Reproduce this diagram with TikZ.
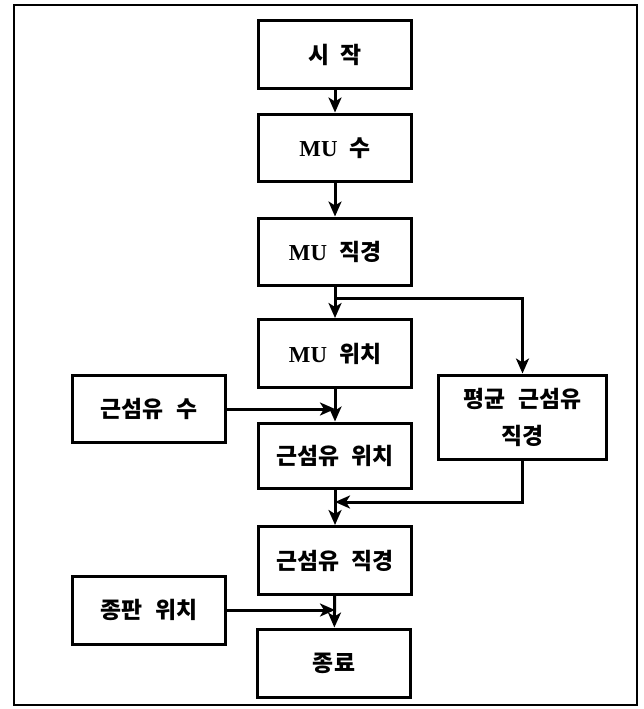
\documentclass[tikz,border=0pt]{standalone}
\usepackage{fontspec}
\setmainfont{Liberation Serif}
\newfontfamily\kr{Noto Sans CJK KR}[WordSpace=2.3]
\usetikzlibrary{arrows.meta}

\begin{document}
\begin{tikzpicture}[x=0.02cm, y=-0.02cm,
	blk/.style={draw, line width=0.06cm, minimum width=3.08cm, minimum height=1.36cm, align=center, font=\fontsize{13}{21.5}\selectfont\bfseries\kr},
	arr/.style={line width=0.06cm, -{Stealth[length=0.3cm, width=0.26cm, inset=0.08cm]}}]
	%frame
	\useasboundingbox (0,0) rectangle (643,709);
	\draw[line width=0.03cm] (14,5) rectangle (637,705);

	%boxes
	\node[blk] (start) at (335,54.5) {시\enspace 작};
	\node[blk] (mun) at (335,148) {{\rmfamily MU} 수};
	\node[blk] (mud) at (335,252) {{\rmfamily MU} 직경};
	\node[blk] (mup) at (335,353.5) {{\rmfamily MU} 위치};
	\node[blk] (fnum) at (149,409) {근섬유 수};
	\node[blk, minimum height=1.32cm] (fpos) at (335,456) {근섬유 위치};
	\node[blk, minimum width=3.38cm, minimum height=1.7cm] (fmean) at (522.5,417.5) {평균 근섬유\\직경};
	\node[blk] (fdia) at (335,560.5) {근섬유 직경};
	\node[blk] (epos) at (149,610) {종판 위치};
	\node[blk] (finish) at (334,663) {종료};

	%arrows
	\draw[arr] (start) -- (mun);
	\draw[arr] (mun) -- (mud);
	\draw[arr] (mud) -- (mup);
	\coordinate (split) at (335,298);
	\draw[arr] (split) -| (fmean);
	\draw[arr] (fnum.east) -- (fnum.east -| mup.south);
	\draw[arr] (mup) -- (fpos);
	\coordinate (join) at (335,502);
	\draw[arr] (fmean.south) |- (join);
	\draw[arr] (fpos) -- (fdia);
	\draw[arr] (epos.east) -- (epos.east -| fdia.south);
	\draw[arr] (fdia) -- (finish);
\end{tikzpicture}
\end{document}
